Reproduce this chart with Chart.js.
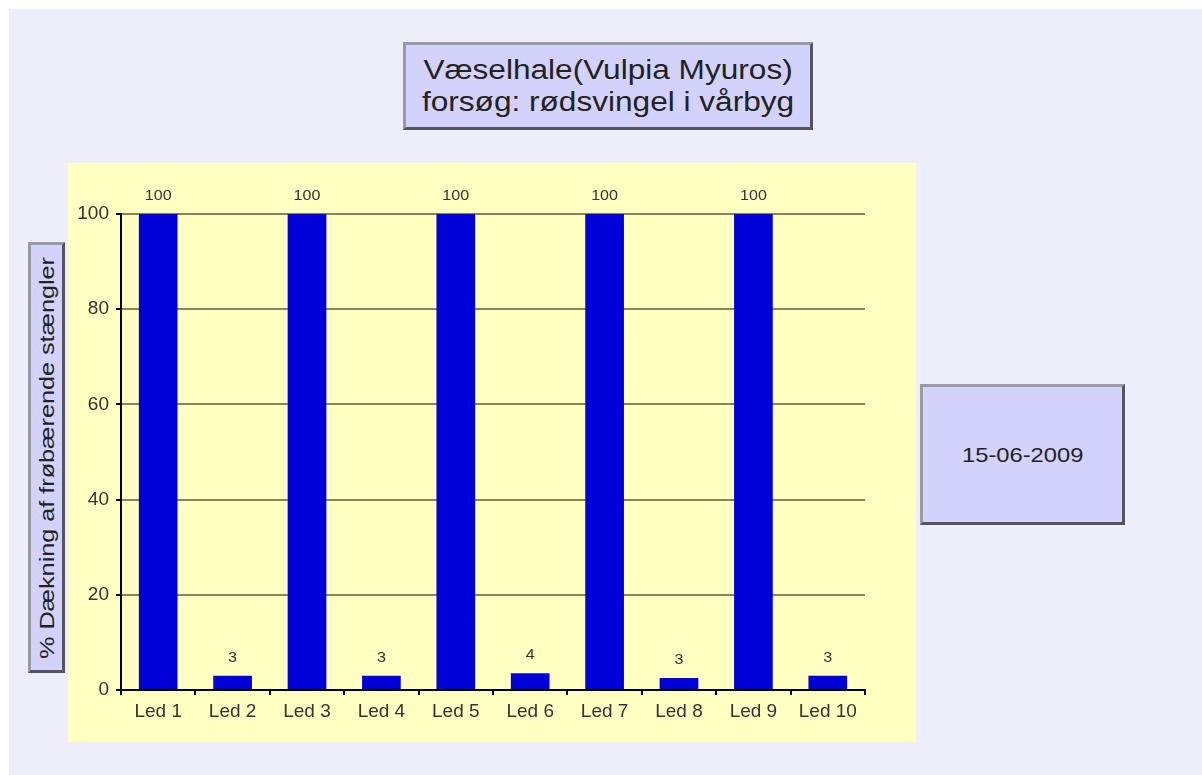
<!DOCTYPE html>
<html>
<head>
<meta charset="utf-8">
<script src="https://cdn.jsdelivr.net/npm/chart.js@4"></script>
<style>
  body { margin: 0; background: #ffffff; font-family: "Liberation Sans", Arial, sans-serif; }
  #bg { position: absolute; left: 9px; top: 9px; width: 1193px; height: 766px; background: #eeeefb; }
  .box {
    position: absolute; background: #d2d2fc; color: #222;
    border: 3px solid #9a9aa6; border-right-color: #55555f; border-bottom-color: #55555f;
    box-sizing: border-box; display: flex; align-items: center; justify-content: center; text-align: center;
  }
  .box span { display: block; white-space: nowrap; }
  #title { left: 403px; top: 42px; width: 410px; height: 88px; }
  #title span { font-size: 27px; line-height: 32px; transform: scaleX(1.17); }
  #date { left: 920px; top: 384px; width: 205px; height: 141px; }
  #date span { font-size: 21px; transform: scaleX(1.13); }
  #ylab { left: 28px; top: 242px; width: 37px; height: 431px; }
  #ylab span { font-size: 21px; transform: rotate(-90deg) scaleX(1.2); }
  #plot { position: absolute; left: 68px; top: 163px; width: 848px; height: 579px; background: #ffffc2; }
</style>
</head>
<body>
<div id="bg"></div>
<div class="box" id="title"><span>Væselhale(Vulpia Myuros)<br>forsøg: rødsvingel i vårbyg</span></div>
<div class="box" id="ylab"><span>% Dækning af frøbærende stængler</span></div>
<div class="box" id="date"><span>15-06-2009</span></div>
<div id="plot"><canvas id="chart" width="848" height="579"></canvas></div>
<script>
// kategorier og værdier
const labels = ['Led 1', 'Led 2', 'Led 3', 'Led 4', 'Led 5', 'Led 6', 'Led 7', 'Led 8', 'Led 9', 'Led 10'];
const values = [100, 3, 100, 3, 100, 3.5, 100, 2.5, 100, 3];
const yTicks = [0, 20, 40, 60, 80, 100];

// tal over søjlerne
const valueLabels = {
    id: 'valueLabels',
    afterDatasetsDraw(chart) {
        const ctx = chart.ctx;
        const meta = chart.getDatasetMeta(0);
        meta.data.forEach((bar, i) => {
            ctx.save();
            ctx.font = '14px "Liberation Sans", Arial, sans-serif';
            ctx.fillStyle = '#333';
            ctx.textAlign = 'center';
            ctx.textBaseline = 'bottom';
            ctx.translate(bar.x, bar.y - 11);
            ctx.scale(1.15, 1);
            ctx.fillText(Math.round(values[i]), 0, 0);
            ctx.restore();
        });
    }
};

const ctx = document.getElementById('chart').getContext('2d');
new Chart(ctx, {
    type: 'bar',
    data: {
        labels: labels,
        datasets: [{
            data: values,
            backgroundColor: '#0000d8',
            borderWidth: 0,
            barPercentage: 0.52,
            categoryPercentage: 1
        }]
    },
    options: {
        responsive: false,
        animation: false,
        layout: { padding: { left: 0, top: 51, right: 51, bottom: 0 } },
        plugins: { legend: { display: false }, tooltip: { enabled: false }, title: { display: false } },
        scales: {
            x: {
                grid: { offset: true, drawOnChartArea: false, tickLength: 5, tickColor: '#000', lineWidth: 2 },
                border: { color: '#000', width: 2 },
                ticks: { color: '#333', font: { size: 19, family: 'Liberation Sans' }, padding: 5 },
                afterFit: s => { s.height = 52; }
            },
            y: {
                min: 0,
                max: 100,
                afterBuildTicks: s => { s.ticks = yTicks.map(v => ({ value: v })); },
                grid: { color: '#86865c', lineWidth: 2, tickLength: 5, tickColor: '#000' },
                border: { color: '#000', width: 2 },
                ticks: { color: '#333', font: { size: 19, family: 'Liberation Sans' }, padding: 7 },
                afterFit: s => { s.width = 53; }
            }
        }
    },
    plugins: [valueLabels]
});
</script>
</body>
</html>
